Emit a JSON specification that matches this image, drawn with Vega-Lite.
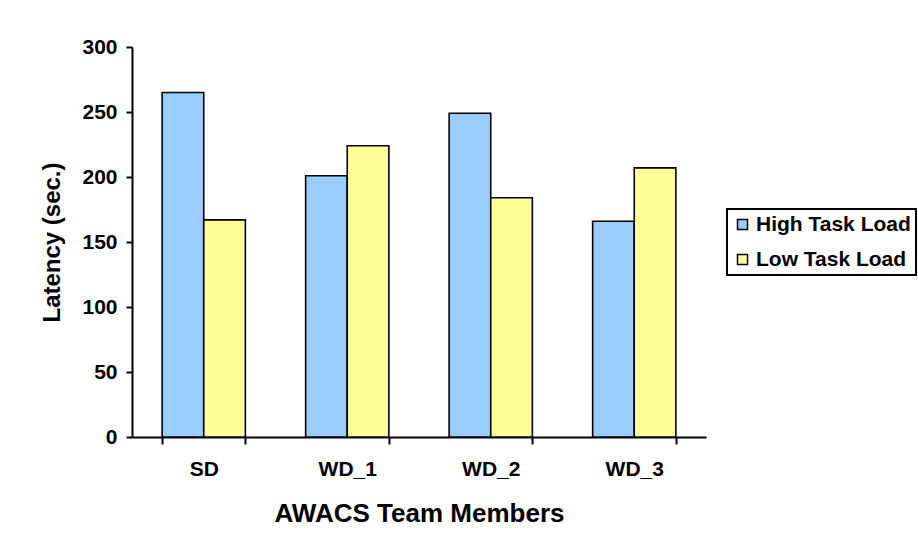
{
  "$schema": "https://vega.github.io/schema/vega-lite/v6.json",
  "autosize": {"type": "none"},
  "padding": {"left": 132, "top": 47, "right": 212, "bottom": 115},
  "width": 574,
  "height": 390,
  "background": "white",
  "data": {
    "values": [
      {"member": "SD", "load": "High Task Load", "latency": 265},
      {"member": "SD", "load": "Low Task Load", "latency": 167},
      {"member": "WD_1", "load": "High Task Load", "latency": 201},
      {"member": "WD_1", "load": "Low Task Load", "latency": 224},
      {"member": "WD_2", "load": "High Task Load", "latency": 249},
      {"member": "WD_2", "load": "Low Task Load", "latency": 184},
      {"member": "WD_3", "load": "High Task Load", "latency": 166},
      {"member": "WD_3", "load": "Low Task Load", "latency": 207}
    ]
  },
  "mark": {"type": "bar", "stroke": "black", "strokeWidth": 1.6},
  "encoding": {
    "x": {
      "field": "member",
      "type": "nominal",
      "sort": ["SD", "WD_1", "WD_2", "WD_3"],
      "scale": {"paddingInner": 0.42, "paddingOuter": 0.21},
      "axis": {
        "title": "AWACS Team Members",
        "labelAngle": 0,
        "tickBand": "extent",
        "tickSize": 7,
        "tickWidth": 2,
        "domainWidth": 2,
        "labelPadding": 14,
        "titlePadding": 21
      }
    },
    "xOffset": {
      "field": "load",
      "type": "nominal",
      "scale": {"paddingInner": 0, "paddingOuter": 0}
    },
    "y": {
      "field": "latency",
      "type": "quantitative",
      "scale": {"domain": [0, 300], "nice": false},
      "axis": {
        "title": "Latency (sec.)",
        "values": [0, 50, 100, 150, 200, 250, 300],
        "grid": false,
        "tickSize": 6,
        "tickWidth": 2,
        "domainWidth": 2,
        "labelPadding": 9,
        "titlePadding": 17
      }
    },
    "color": {
      "field": "load",
      "type": "nominal",
      "scale": {"domain": ["High Task Load", "Low Task Load"], "range": ["#99CCFF", "#FFFF99"]},
      "legend": {
        "title": null,
        "orient": "none",
        "legendX": 595,
        "legendY": 162,
        "symbolType": "square",
        "symbolSize": 100,
        "symbolStrokeColor": "black",
        "symbolStrokeWidth": 1.5,
        "symbolOpacity": 1,
        "labelFontSize": 21,
        "labelFont": "Liberation Sans",
        "labelFontWeight": "bold",
        "labelColor": "black",
        "labelOffset": 3,
        "rowPadding": 13,
        "padding": 5,
        "strokeColor": "black",
        "fillColor": "white"
      }
    }
  },
  "config": {
    "view": {"stroke": null},
    "font": "Liberation Sans",
    "legend": {"strokeWidth": 2},
    "axis": {
      "domainColor": "black",
      "tickColor": "black",
      "labelColor": "black",
      "titleColor": "black",
      "labelFont": "Liberation Sans",
      "titleFont": "Liberation Sans",
      "labelFontSize": 21,
      "labelFontWeight": "bold",
      "titleFontSize": 24,
      "titleFontWeight": "bold"
    },
    "axisX": {"titleFontSize": 26}
  }
}
